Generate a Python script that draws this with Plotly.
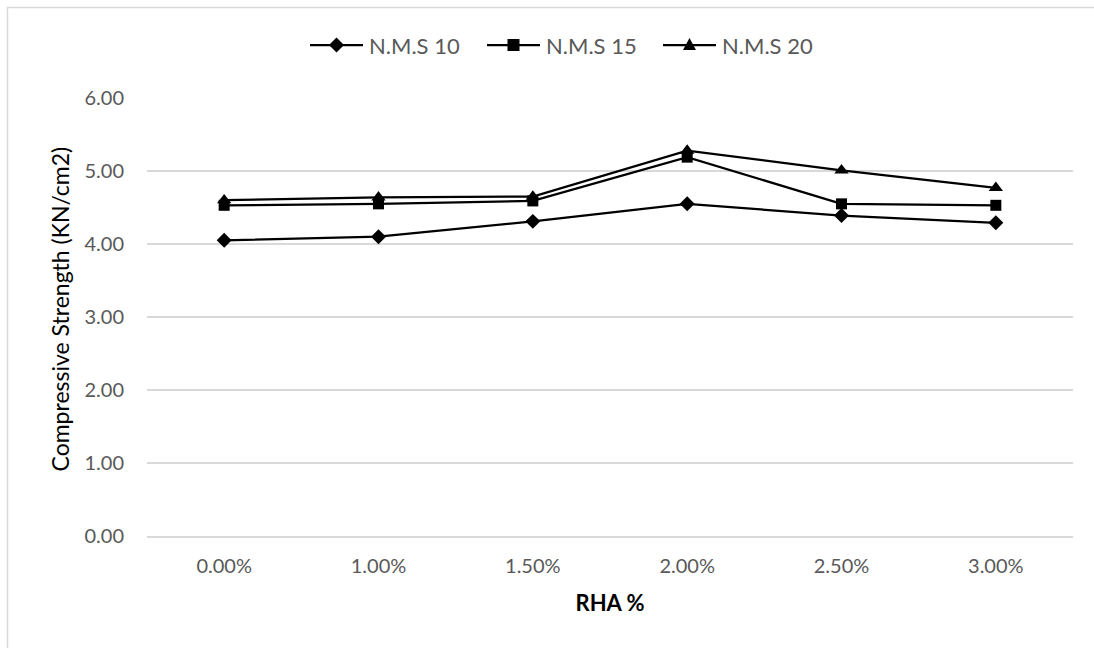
import plotly.graph_objects as go

# RHA replacement levels (category axis)
rha_levels = ["0.00%", "1.00%", "1.50%", "2.00%", "2.50%", "3.00%"]

# Compressive strength (KN/cm2) for each nominal maximum size
nms10 = [4.05, 4.10, 4.31, 4.55, 4.39, 4.29]
nms15 = [4.53, 4.55, 4.59, 5.19, 4.55, 4.53]
nms20 = [4.60, 4.64, 4.65, 5.28, 5.01, 4.77]

series_names = ["N.M.S 10", "N.M.S 15", "N.M.S 20"]
series_values = [nms10, nms15, nms20]
series_symbols = ["diamond", "square", "triangle-up"]
series_sizes = [11.5, 11, 12.5]

FONT = "Lato"
GREY = "#595959"
GRID = "#d9d9d9"

W, H = 1094, 648
L, R, T, B = 147, 21, 98, 112
pw, ph = W - L - R, H - T - B


def px_to_paper_x(px):
    return (px - L) / pw


def px_to_paper_y(py):
    return (H - B - py) / ph


fig = go.Figure()
for name, vals, sym, size in zip(series_names, series_values, series_symbols, series_sizes):
    fig.add_trace(go.Scatter(
        x=rha_levels, y=vals, name=name, mode="lines+markers",
        line=dict(color="black", width=2.25),
        marker=dict(symbol=sym, size=size, color="black"),
        showlegend=False,
    ))

fig.update_layout(
    width=W, height=H,
    margin=dict(l=L, r=R, t=T, b=B),
    paper_bgcolor="white", plot_bgcolor="white",
    font=dict(family=FONT, color=GREY, size=20),
    showlegend=False,
    xaxis=dict(
        type="category", range=[-0.5, 5.5],
        showgrid=False, zeroline=False,
        showline=True, linecolor=GRID, linewidth=1.5,
        ticks="", ticklabelstandoff=11,
        tickfont=dict(size=20, color=GREY, family=FONT),
        title=dict(text="<b>RHA %</b>", font=dict(size=22, color="black", family=FONT),
                   standoff=20),
    ),
    yaxis=dict(
        range=[0, 6], dtick=1, tickformat=".2f",
        showgrid=True, gridcolor=GRID, gridwidth=1.5,
        zeroline=False, showline=False, ticks="",
        ticklabelstandoff=22,
        tickfont=dict(size=20, color=GREY, family=FONT),
    ),
)

# Y-axis title
fig.add_annotation(
    text="Compressive Strength (KN/cm2)", textangle=-90,
    xref="paper", yref="paper", x=px_to_paper_x(59.5), y=px_to_paper_y(309),
    xanchor="center", yanchor="middle", showarrow=False,
    font=dict(size=23, color="black", family=FONT),
)

# Legend: line with centred marker, then label
legend_y = px_to_paper_y(45)
legend_x0 = [310, 487, 663]
LINE_LEN = 53
marker_paths = {
    "diamond": "M -7.5 0 L 0 7.5 L 7.5 0 L 0 -7.5 Z",
    "square": "M -6 -6 L 6 -6 L 6 6 L -6 6 Z",
    "triangle-up": "M -6.5 -5 L 6.5 -5 L 0 7 Z",
}
for name, sym, x0 in zip(series_names, series_symbols, legend_x0):
    fig.add_shape(
        type="line", xref="paper", yref="paper",
        x0=px_to_paper_x(x0), x1=px_to_paper_x(x0 + LINE_LEN),
        y0=legend_y, y1=legend_y,
        line=dict(color="black", width=2.25),
    )
    fig.add_shape(
        type="path", xref="paper", yref="paper",
        xsizemode="pixel", ysizemode="pixel",
        xanchor=px_to_paper_x(x0 + LINE_LEN / 2), yanchor=legend_y,
        path=marker_paths[sym],
        fillcolor="black", line=dict(color="black", width=0),
    )
    fig.add_annotation(
        text=name, xref="paper", yref="paper",
        x=px_to_paper_x(x0 + LINE_LEN + 4), y=legend_y,
        xanchor="left", yanchor="middle", showarrow=False,
        font=dict(size=22, color=GREY, family=FONT),
    )

# Chart-area border
fig.add_shape(
    type="rect", xref="paper", yref="paper",
    x0=px_to_paper_x(7.5), x1=px_to_paper_x(W + 20),
    y0=px_to_paper_y(H + 20), y1=px_to_paper_y(7.5),
    line=dict(color=GRID, width=1.5), fillcolor="rgba(0,0,0,0)", layer="below",
)

fig.write_html("out.html")
